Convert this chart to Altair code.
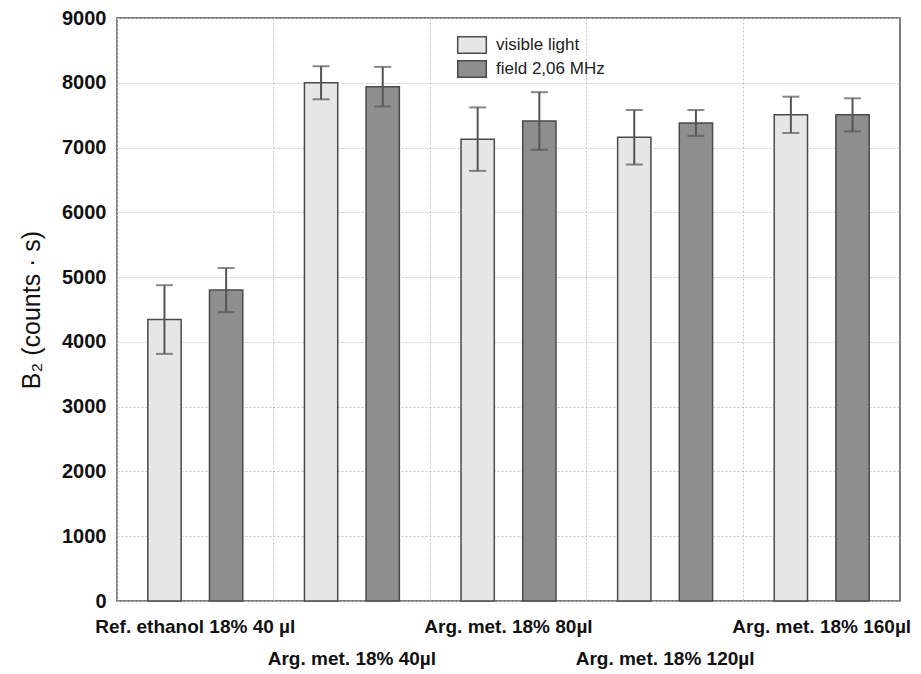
import altair as alt
import pandas as pd

groups = ["Ref. ethanol 18% 40 µl", "Arg. met. 18% 40µl", "Arg. met. 18% 80µl",
          "Arg. met. 18% 120µl", "Arg. met. 18% 160µl"]
series = ["visible light", "field 2,06 MHz"]
visible_mean = [4345, 8000, 7130, 7160, 7505]
visible_err = [530, 255, 490, 420, 280]
field_mean = [4800, 7940, 7410, 7380, 7505]
field_err = [340, 305, 445, 200, 255]
y_ticks = [0, 1000, 2000, 3000, 4000, 5000, 6000, 7000, 8000, 9000]
lower_row = groups[1::2]

rows = []
for g, vm, ve, fm, fe in zip(groups, visible_mean, visible_err, field_mean, field_err):
    rows.append(dict(group=g, series=series[0], mean=vm, lo=vm - ve, hi=vm + ve))
    rows.append(dict(group=g, series=series[1], mean=fm, lo=fm - fe, hi=fm + fe))
df = pd.DataFrame(rows)

FONT = "Liberation Sans"
W, H = 783, 583
INK = "#4a4a4a"
GRID = "#c4c4c4"

stagger = "[" + ",".join("'" + s + "'" for s in lower_row) + "]"
x_axis = alt.Axis(
    title=None, labelAngle=0, ticks=False, domain=False,
    grid=True, gridDash=[2, 2], gridColor=GRID, gridWidth=1, bandPosition=0,
    labelAlign="center",
    labelFont=FONT, labelFontSize=19, labelFontWeight="bold", labelColor="#111",
    labelPadding=16, labelLineHeight=32, labelOverlap=False, labelLimit=400,
    labelBaseline="top",
    labelExpr="indexof(" + stagger + ", datum.value) >= 0 ? ['', datum.value] : datum.value",
)
y_axis = alt.Axis(
    values=y_ticks, format="d", title="B₂ (counts · s)", ticks=False, domain=False,
    grid=True, gridDash=[2, 2], gridColor=GRID, gridWidth=1,
    labelFont=FONT, labelFontSize=20, labelFontWeight="bold", labelColor="#111",
    labelPadding=11, titleFont=FONT, titleFontSize=25, titleFontWeight="normal",
    titleColor="#111", titlePadding=17,
)
y_scale = alt.Scale(domain=[0, 9000], nice=False)

x = alt.X("group:N", sort=groups, scale=alt.Scale(paddingInner=0, paddingOuter=0), axis=x_axis)
xoff = alt.XOffset("series:N", sort=series, scale=alt.Scale(paddingInner=0.46, paddingOuter=0.5))
color = alt.Color(
    "series:N", sort=series,
    scale=alt.Scale(domain=series, range=["#e6e6e6", "#8e8e8e"]),
    legend=alt.Legend(
        title=None, orient="none", legendX=343, legendY=15,
        symbolType="M-1.3,-0.75L1.3,-0.75L1.3,0.75L-1.3,0.75Z", symbolSize=484,
        symbolStrokeColor=INK, symbolStrokeWidth=1.5, symbolOpacity=1,
        labelFont=FONT, labelFontSize=17, labelColor="#222", labelOffset=12,
        rowPadding=0, padding=0, labelLimit=300,
    ),
)

bars = alt.Chart(df).mark_bar(stroke=INK, strokeWidth=1.5, opacity=1).encode(
    x=x, xOffset=xoff, y=alt.Y("mean:Q", scale=y_scale, axis=y_axis), color=color
)
err = alt.Chart(df).mark_rule(color="#555", strokeWidth=2).encode(
    x=x, xOffset=xoff, y=alt.Y("lo:Q", scale=y_scale, axis=y_axis), y2="hi:Q"
)
cap_lo = alt.Chart(df).mark_tick(color="#555", thickness=2, size=17).encode(
    x=x, xOffset=xoff, y=alt.Y("lo:Q", scale=y_scale, axis=y_axis)
)
cap_hi = alt.Chart(df).mark_tick(color="#555", thickness=2, size=17).encode(
    x=x, xOffset=xoff, y=alt.Y("hi:Q", scale=y_scale, axis=y_axis)
)

chart = (
    alt.layer(bars, err, cap_lo, cap_hi)
    .properties(
        width=W, height=H,
        autosize=alt.AutoSizeParams(type="none"),
        padding={"left": 109, "top": 10, "right": 13, "bottom": 70},
        background="white",
    )
    .configure_view(stroke="#555", strokeWidth=1.5)
)

chart.save("out.html", embed_options={"renderer": "svg", "actions": False})
